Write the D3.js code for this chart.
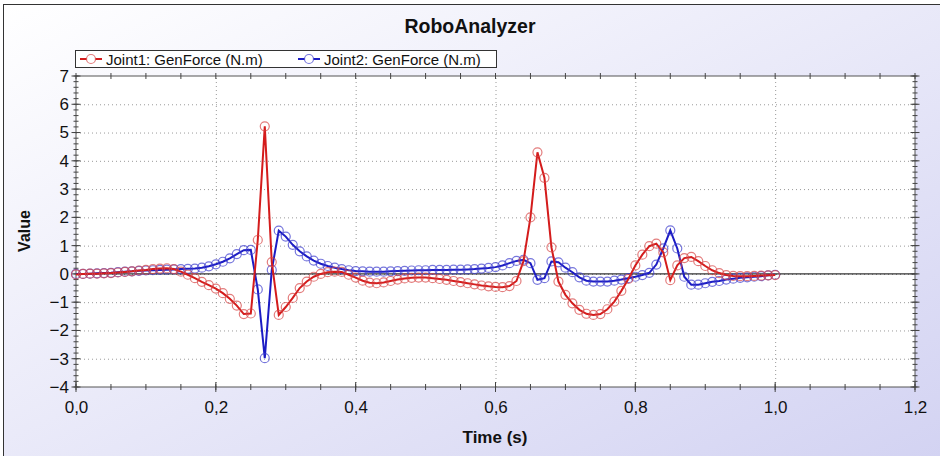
<!DOCTYPE html>
<html lang="en">
<head>
  <meta charset="UTF-8" />
  <title>RoboAnalyzer</title>
  <style>
    body { margin: 0; background: #fff; }
    svg text { font-family: "Liberation Sans", Arial, sans-serif; fill: #111; }
    .grid line { stroke: #9a9a9a; stroke-width: 1px; stroke-dasharray: 1,3; }
    .tick-mark { stroke: #444; stroke-width: 1px; }
  </style>
</head>
<body>
<script src="https://cdn.jsdelivr.net/npm/d3@7"></script>
<script>
  var w = 940;
  var h = 456;

  // sample times (s)
  var timeS = [0, 0.01, 0.02, 0.03, 0.04, 0.05, 0.06, 0.07, 0.08, 0.09,
    0.1, 0.11, 0.12, 0.13, 0.14, 0.15, 0.16, 0.17, 0.18, 0.19,
    0.2, 0.21, 0.22, 0.23, 0.24, 0.25, 0.26, 0.27, 0.28, 0.29,
    0.3, 0.31, 0.32, 0.33, 0.34, 0.35, 0.36, 0.37, 0.38, 0.39,
    0.4, 0.41, 0.42, 0.43, 0.44, 0.45, 0.46, 0.47, 0.48, 0.49,
    0.5, 0.51, 0.52, 0.53, 0.54, 0.55, 0.56, 0.57, 0.58, 0.59,
    0.6, 0.61, 0.62, 0.63, 0.64, 0.65, 0.66, 0.67, 0.68, 0.69,
    0.7, 0.71, 0.72, 0.73, 0.74, 0.75, 0.76, 0.77, 0.78, 0.79,
    0.8, 0.81, 0.82, 0.83, 0.84, 0.85, 0.86, 0.87, 0.88, 0.89,
    0.9, 0.91, 0.92, 0.93, 0.94, 0.95, 0.96, 0.97, 0.98, 0.99, 1.0];

  // Joint1: GenForce (N.m)
  var joint1 = [-0.02, 0.00, 0.01, 0.01, 0.02, 0.03, 0.05, 0.07, 0.09, 0.12,
    0.14, 0.17, 0.19, 0.20, 0.17, 0.08, -0.03, -0.15, -0.28, -0.40,
    -0.52, -0.68, -0.88, -1.12, -1.42, -1.40, 1.20, 5.22, 0.42, -1.45,
    -1.17, -0.85, -0.50, -0.27, -0.10, 0.00, 0.06, 0.08, 0.07, -0.03,
    -0.13, -0.24, -0.31, -0.33, -0.30, -0.25, -0.20, -0.16, -0.14, -0.13,
    -0.13, -0.15, -0.18, -0.21, -0.25, -0.29, -0.33, -0.37, -0.41, -0.44,
    -0.46, -0.47, -0.43, -0.25, 0.45, 2.00, 4.30, 3.40, 0.94, -0.27,
    -0.74, -1.04, -1.27, -1.41, -1.45, -1.42, -1.25, -0.98, -0.60, -0.18,
    0.30, 0.68, 0.98, 1.07, 0.76, -0.22, 0.30, 0.56, 0.60, 0.45,
    0.28, 0.13, 0.03, -0.04, -0.07, -0.08, -0.08, -0.07, -0.06, -0.05, -0.04];

  // Joint2: GenForce (N.m)
  var joint2 = [0.00, 0.00, 0.01, 0.02, 0.03, 0.04, 0.06, 0.08, 0.09, 0.11,
    0.12, 0.13, 0.14, 0.15, 0.16, 0.17, 0.18, 0.19, 0.22, 0.27,
    0.34, 0.43, 0.55, 0.70, 0.84, 0.85, -0.55, -2.98, 0.14, 1.53,
    1.32, 1.03, 0.80, 0.62, 0.47, 0.36, 0.28, 0.22, 0.17, 0.13,
    0.10, 0.09, 0.08, 0.08, 0.08, 0.09, 0.10, 0.11, 0.12, 0.13,
    0.13, 0.14, 0.14, 0.14, 0.15, 0.15, 0.16, 0.17, 0.19, 0.21,
    0.24, 0.30, 0.38, 0.46, 0.50, 0.38, -0.21, -0.15, 0.44, 0.41,
    0.22, 0.06, -0.12, -0.24, -0.27, -0.27, -0.27, -0.24, -0.20, -0.15,
    -0.10, -0.04, 0.04, 0.33, 0.90, 1.54, 0.90, -0.10, -0.38, -0.38,
    -0.33, -0.28, -0.25, -0.20, -0.17, -0.14, -0.12, -0.10, -0.08, -0.05, -0.03];

  var xMajor = [0, 0.2, 0.4, 0.6, 0.8, 1.0, 1.2];
  var yMajor = [-4, -3, -2, -1, 0, 1, 2, 3, 4, 5, 6, 7];

  var seriesNames = ["Joint1: GenForce (N.m)", "Joint2: GenForce (N.m)"];
  var lineColors = ["#d41c1c", "#1c1cc4"];
  var markColors = ["rgba(215,70,70,0.7)", "rgba(60,60,205,0.7)"];

  var plot = { left: 76, right: 915, top: 76, bottom: 387 };

  var svg = d3.select("body").append("svg")
    .attr("width", w)
    .attr("height", h);

  var defs = svg.append("defs");
  var grad = defs.append("linearGradient")
    .attr("id", "bg")
    .attr("x1", "0%").attr("y1", "0%")
    .attr("x2", "100%").attr("y2", "100%");
  grad.append("stop").attr("offset", "0%").attr("stop-color", "#ffffff");
  grad.append("stop").attr("offset", "100%").attr("stop-color", "#d2d2f2");

  svg.append("rect")
    .attr("x", 3.5).attr("y", 4.5)
    .attr("width", w + 10).attr("height", h + 10)
    .attr("fill", "url(#bg)")
    .attr("stroke", "#333");

  svg.append("rect")
    .attr("x", plot.left).attr("y", plot.top)
    .attr("width", plot.right - plot.left)
    .attr("height", plot.bottom - plot.top)
    .attr("fill", "#fff");

  var xScale = d3.scaleLinear().domain([0, 1.2]).range([plot.left, plot.right]);
  var yScale = d3.scaleLinear().domain([-4, 7]).range([plot.bottom, plot.top]);

  // dotted grid
  svg.append("g")
    .attr("class", "grid")
    .attr("transform", "translate(0," + plot.bottom + ")")
    .call(d3.axisBottom(xScale).tickValues(xMajor.slice(1, -1))
      .tickSize(-(plot.bottom - plot.top)).tickFormat(""))
    .call(function(g) { g.select(".domain").remove(); });

  svg.append("g")
    .attr("class", "grid")
    .attr("transform", "translate(" + plot.left + ",0)")
    .call(d3.axisLeft(yScale).tickValues(yMajor.slice(1, -1))
      .tickSize(-(plot.right - plot.left)).tickFormat(""))
    .call(function(g) { g.select(".domain").remove(); });

  // zero line
  svg.append("line")
    .attr("x1", plot.left).attr("x2", plot.right)
    .attr("y1", yScale(0)).attr("y2", yScale(0))
    .attr("stroke", "#000").attr("stroke-width", 1);

  // frame
  svg.append("rect")
    .attr("x", plot.left).attr("y", plot.top)
    .attr("width", plot.right - plot.left)
    .attr("height", plot.bottom - plot.top)
    .attr("fill", "none")
    .attr("stroke", "#555");

  // tick marks crossing each frame side
  var xMinor = d3.range(0, 1.2001, 0.05);
  var yMinor = d3.range(-4, 7.001, 0.2);
  var ticks = svg.append("g");
  function hTicks(vals, yPos, len) {
    ticks.selectAll(null).data(vals).enter().append("line")
      .attr("class", "tick-mark")
      .attr("x1", function(d) { return xScale(d); })
      .attr("x2", function(d) { return xScale(d); })
      .attr("y1", yPos - len).attr("y2", yPos + len);
  }
  function vTicks(vals, xPos, len) {
    ticks.selectAll(null).data(vals).enter().append("line")
      .attr("class", "tick-mark")
      .attr("y1", function(d) { return yScale(d); })
      .attr("y2", function(d) { return yScale(d); })
      .attr("x1", xPos - len).attr("x2", xPos + len);
  }
  hTicks(xMinor, plot.bottom, 3);
  hTicks(xMajor, plot.bottom, 5);
  hTicks(xMinor, plot.top, 3);
  vTicks(yMinor, plot.left, 2.5);
  vTicks(yMajor, plot.left, 4.5);
  vTicks(yMinor, plot.right, 2.5);
  vTicks(yMajor, plot.right, 4.5);

  // tick labels
  var fmt = function(d) { return d3.format(".1f")(d).replace(".", ","); };
  svg.append("g")
    .attr("transform", "translate(0," + plot.bottom + ")")
    .call(d3.axisBottom(xScale).tickValues(xMajor).tickSize(0).tickPadding(14).tickFormat(fmt))
    .call(function(g) {
      g.select(".domain").remove();
      g.selectAll("text").style("font-size", "17px").attr("fill", "#111");
    });

  svg.append("g")
    .attr("transform", "translate(" + plot.left + ",0)")
    .call(d3.axisLeft(yScale).tickValues(yMajor).tickSize(0).tickPadding(7))
    .call(function(g) {
      g.select(".domain").remove();
      g.selectAll("text").style("font-size", "17px").attr("fill", "#111");
    });

  // series: draw Joint2 first so Joint1 sits on top
  var line = d3.line()
    .x(function(d) { return xScale(d.t); })
    .y(function(d) { return yScale(d.v); });

  [joint2, joint1].forEach(function(vals, k) {
    var idx = 1 - k;
    var pts = vals.map(function(v, i) { return { t: timeS[i], v: v }; });
    svg.append("path")
      .datum(pts)
      .attr("d", line)
      .attr("fill", "none")
      .attr("stroke", lineColors[idx])
      .attr("stroke-width", 2);
    svg.append("g").selectAll("circle")
      .data(pts).enter().append("circle")
      .attr("cx", function(d) { return xScale(d.t); })
      .attr("cy", function(d) { return yScale(d.v); })
      .attr("r", 4.5)
      .attr("fill", "none")
      .attr("stroke", markColors[idx])
      .attr("stroke-width", 1.2);
  });

  // title
  svg.append("text")
    .attr("x", 470).attr("y", 33)
    .attr("text-anchor", "middle")
    .style("font-size", "19.5px")
    .style("font-weight", "bold")
    .text("RoboAnalyzer");

  // axis titles
  svg.append("text")
    .attr("x", 495).attr("y", 443)
    .attr("text-anchor", "middle")
    .style("font-size", "17px")
    .style("font-weight", "bold")
    .text("Time (s)");

  svg.append("text")
    .attr("transform", "translate(30,231) rotate(-90)")
    .attr("text-anchor", "middle")
    .style("font-size", "16px")
    .style("font-weight", "bold")
    .text("Value");

  // legend
  var legend = svg.append("g");
  legend.append("rect")
    .attr("x", 75.5).attr("y", 50.5)
    .attr("width", 421).attr("height", 17)
    .attr("fill", "#fff")
    .attr("stroke", "#333");
  var legX = [80, 298];
  seriesNames.forEach(function(name, i) {
    var g = legend.append("g").attr("transform", "translate(" + legX[i] + ",59)");
    g.append("line").attr("x1", 0).attr("x2", 22)
      .attr("stroke", lineColors[i]).attr("stroke-width", 2);
    g.append("circle").attr("cx", 11).attr("r", 4.5)
      .attr("fill", "#fff").attr("stroke", markColors[i]).attr("stroke-width", 1.2);
    g.append("text").attr("x", 26).attr("y", 5.5)
      .style("font-size", "15px")
      .text(name);
  });
</script>
</body>
</html>
